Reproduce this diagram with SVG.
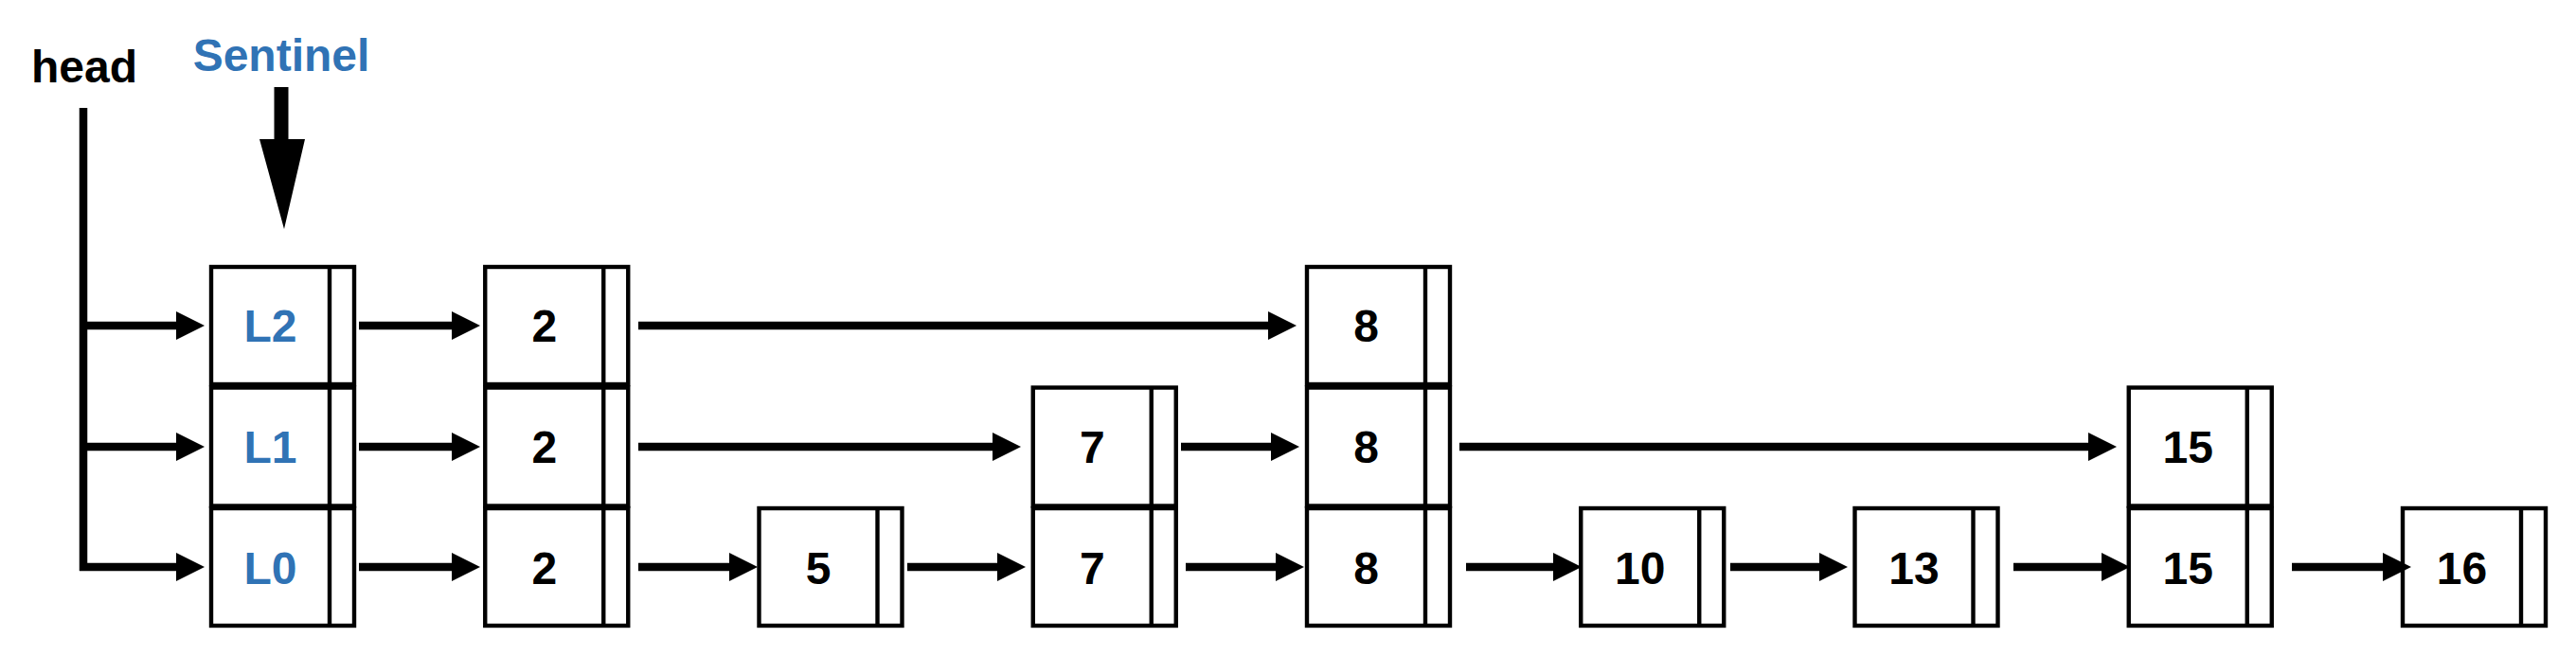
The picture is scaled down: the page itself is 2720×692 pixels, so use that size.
<svg xmlns="http://www.w3.org/2000/svg" width="2720" height="692" viewBox="0 0 2720 692">
<style>
.cell{fill:#fff;stroke:#000;stroke-width:4.4}
.div{stroke:#000;stroke-width:4.4}
.t{font-family:"Liberation Sans",Arial,Helvetica,sans-serif;font-weight:bold;font-size:48px;text-anchor:middle;fill:#000}
.b{fill:#3073B5}
.c{stroke:#000;stroke-width:8.5;fill:none;marker-end:url(#ah)}
</style>
<defs>
<marker id="ah" markerUnits="userSpaceOnUse" markerWidth="30" markerHeight="30" refX="10" refY="15" orient="auto" viewBox="0 0 30 30"><path d="M0,0 L30,15 L0,30 z" fill="#000"/></marker>
</defs>
<rect width="2720" height="692" fill="#fff"/>

<g id="labels">
<text class="t" x="89" y="87">head</text>
<text class="t b" x="297" y="75">Sentinel</text>
</g>

<g id="sentinel-pointer">
<path d="M289.5,92 L304.5,92 L304.5,147 L322,147 L300,242 L274,147 L289.5,147 Z" fill="#000"/>
</g>

<g id="node-sentinel">
<rect class="cell" x="223" y="282" width="151" height="124"/><line class="div" x1="348" y1="282" x2="348" y2="406"/><text class="t b" x="285.5" y="361">L2</text>
<rect class="cell" x="223" y="409.5" width="151" height="125"/><line class="div" x1="348" y1="409.5" x2="348" y2="534.5"/><text class="t b" x="285.5" y="489">L1</text>
<rect class="cell" x="223" y="537" width="151" height="124"/><line class="div" x1="348" y1="537" x2="348" y2="661"/><text class="t b" x="285.5" y="616.5">L0</text>
</g>

<g id="node-2">
<rect class="cell" x="512.25" y="282" width="151" height="124"/><line class="div" x1="637.25" y1="282" x2="637.25" y2="406"/><text class="t" x="574.75" y="361">2</text>
<rect class="cell" x="512.25" y="409.5" width="151" height="125"/><line class="div" x1="637.25" y1="409.5" x2="637.25" y2="534.5"/><text class="t" x="574.75" y="489">2</text>
<rect class="cell" x="512.25" y="537" width="151" height="124"/><line class="div" x1="637.25" y1="537" x2="637.25" y2="661"/><text class="t" x="574.75" y="616.5">2</text>
</g>

<g id="node-5">
<rect class="cell" x="801.5" y="537" width="151" height="124"/><line class="div" x1="926.5" y1="537" x2="926.5" y2="661"/><text class="t" x="864" y="616.5">5</text>
</g>

<g id="node-7">
<rect class="cell" x="1090.75" y="409.5" width="151" height="125"/><line class="div" x1="1215.75" y1="409.5" x2="1215.75" y2="534.5"/><text class="t" x="1153.25" y="489">7</text>
<rect class="cell" x="1090.75" y="537" width="151" height="124"/><line class="div" x1="1215.75" y1="537" x2="1215.75" y2="661"/><text class="t" x="1153.25" y="616.5">7</text>
</g>

<g id="node-8">
<rect class="cell" x="1380" y="282" width="151" height="124"/><line class="div" x1="1505" y1="282" x2="1505" y2="406"/><text class="t" x="1442.5" y="361">8</text>
<rect class="cell" x="1380" y="409.5" width="151" height="125"/><line class="div" x1="1505" y1="409.5" x2="1505" y2="534.5"/><text class="t" x="1442.5" y="489">8</text>
<rect class="cell" x="1380" y="537" width="151" height="124"/><line class="div" x1="1505" y1="537" x2="1505" y2="661"/><text class="t" x="1442.5" y="616.5">8</text>
</g>

<g id="node-10">
<rect class="cell" x="1669.25" y="537" width="151" height="124"/><line class="div" x1="1794.25" y1="537" x2="1794.25" y2="661"/><text class="t" x="1731.75" y="616.5">10</text>
</g>

<g id="node-13">
<rect class="cell" x="1958.5" y="537" width="151" height="124"/><line class="div" x1="2083.5" y1="537" x2="2083.5" y2="661"/><text class="t" x="2021" y="616.5">13</text>
</g>

<g id="node-15">
<rect class="cell" x="2247.75" y="409.5" width="151" height="125"/><line class="div" x1="2372.75" y1="409.5" x2="2372.75" y2="534.5"/><text class="t" x="2310.25" y="489">15</text>
<rect class="cell" x="2247.75" y="537" width="151" height="124"/><line class="div" x1="2372.75" y1="537" x2="2372.75" y2="661"/><text class="t" x="2310.25" y="616.5">15</text>
</g>

<g id="node-16">
<rect class="cell" x="2537" y="537" width="151" height="124"/><line class="div" x1="2662" y1="537" x2="2662" y2="661"/><text class="t" x="2599.5" y="616.5">16</text>
</g>

<g id="connectors">
<path d="M88,114 V603" stroke="#000" stroke-width="8.5" fill="none"/>
<path class="c" d="M84,344 H196"/>
<path class="c" d="M84,472 H196"/>
<path class="c" d="M84,599 H196"/>
<path class="c" d="M379,344 H487"/>
<path class="c" d="M379,472 H487"/>
<path class="c" d="M379,599 H487"/>
<path class="c" d="M674,344 H1349"/>
<path class="c" d="M674,472 H1058"/>
<path class="c" d="M674,599 H780"/>
<path class="c" d="M958,599 H1063"/>
<path class="c" d="M1247,472 H1352"/>
<path class="c" d="M1252,599 H1357"/>
<path class="c" d="M1541,472 H2215"/>
<path class="c" d="M1548,599 H1650"/>
<path class="c" d="M1827,599 H1931"/>
<path class="c" d="M2126,599 H2229"/>
<path class="c" d="M2420,599 H2526"/>
</g>
</svg>
